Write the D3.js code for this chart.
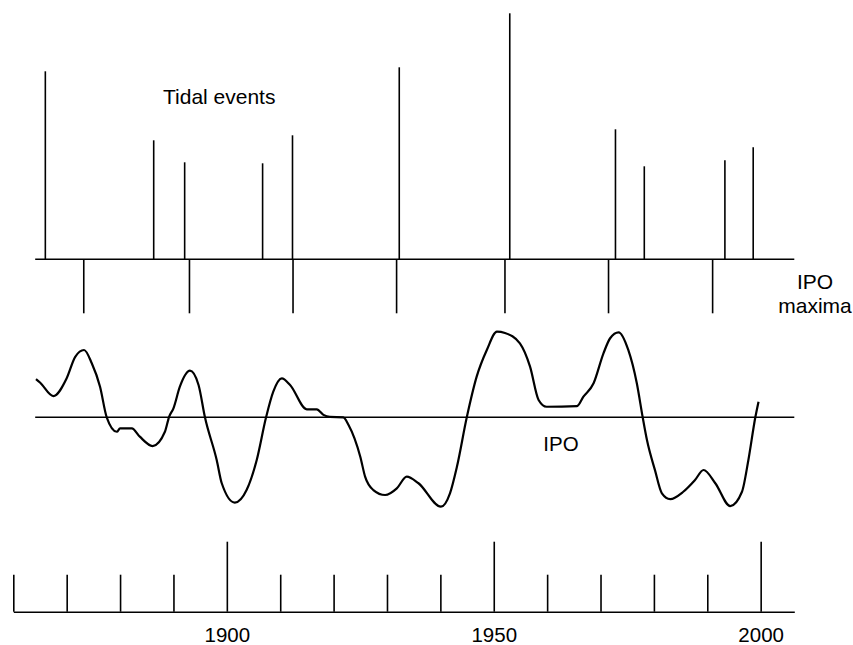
<!DOCTYPE html>
<html>
<head>
<meta charset="utf-8">
<script src="https://cdn.jsdelivr.net/npm/d3@7"></script>
<style>
    body { margin: 0; background: #fff; }
    text { font-family: "Liberation Sans", Arial, sans-serif; fill: #000; }
</style>
</head>
<body>
<div id="chart"></div>
<script>
// tidal events (year, relative height)
const tidalYears = [1866.0, 1886.3, 1892.1, 1906.7, 1912.3, 1932.3, 1953.0, 1972.8, 1978.2, 1993.3, 1998.6]
const tidalHeights = [188, 119, 97, 96, 124, 192, 246, 130, 93, 99, 112]

// IPO maxima years
const ipoMaxYears = [1873.2, 1893.0, 1912.4, 1931.8, 1952.1, 1971.5, 1991.0]

// IPO index
const ipoYears = [1864.25, 1865.0, 1867.5, 1870.0, 1871.6, 1873.25, 1874.7, 1876.25, 1877.5, 1879.4, 1880.0, 1882.2, 1883.7,
    1886.1, 1888.4, 1889.2, 1890.0, 1891.2, 1893.1, 1894.7, 1895.9, 1898.1, 1899.05, 1901.5, 1903.7, 1905.6, 1907.35,
    1908.7, 1910.3, 1911.85, 1914.97, 1916.85, 1918.1, 1919.3, 1921.8, 1922.8, 1925.0, 1925.9, 1927.45, 1929.65,
    1931.84, 1933.7, 1935.9, 1940.1, 1941.8, 1943.1, 1944.95, 1946.8, 1948.7, 1950.6, 1952.1, 1954.9, 1956.8, 1958.4,
    1959.9, 1965.6, 1966.8, 1968.7, 1970.55, 1971.8, 1973.4, 1975.2, 1976.8, 1977.9, 1978.7, 1980.2, 1981.5, 1983.05,
    1985.5, 1987.7, 1989.3, 1991.5, 1994.3, 1996.5, 1997.7, 1999.0, 1999.6]
const ipoValues = [0.225, 0.205, 0.125, 0.23, 0.356, 0.396, 0.318, 0.18, 0.0, -0.085, -0.065, -0.065, -0.114,
    -0.169, -0.085, 0.004, 0.053, 0.18, 0.274, 0.19, 0.0, -0.251, -0.388, -0.502, -0.428, -0.251, 0.0,
    0.151, 0.229, 0.19, 0.047, 0.047, 0.014, 0.002, 0.0, -0.045, -0.232, -0.349, -0.428, -0.457,
    -0.418, -0.349, -0.388, -0.526, -0.447, -0.291, 0.0, 0.239, 0.396, 0.504, 0.496, 0.435, 0.298, 0.102,
    0.062, 0.066, 0.121, 0.2, 0.376, 0.465, 0.5, 0.396, 0.2, 0.0, -0.134, -0.311, -0.447, -0.481,
    -0.438, -0.369, -0.31, -0.388, -0.522, -0.438, -0.251, 0.0, 0.092]

// time axis ticks
const minorTicks = [1860, 1870, 1880, 1890, 1910, 1920, 1930, 1940, 1960, 1970, 1980, 1990]
const majorTicks = [1900, 1950, 2000]

const timeDomain = [1860, 2006.3]
const panelStart = 1864.1

const dimensions = {
    width: 853,
    height: 645,
    axisY: 611.7,
    tidalBase: 259.3,
    ipoZero: 417.3
}

const wrapper = d3.select("#chart")
    .append("svg")
    .attr("width", dimensions.width)
    .attr("height", dimensions.height)

const xScale = d3.scaleLinear()
    .domain(timeDomain)
    .range([13.3, 794.3])

const tidalScale = d3.scaleLinear()
    .domain([0, 246])
    .range([dimensions.tidalBase, 13.3])

const ipoScale = d3.scaleLinear()
    .domain([0, 0.5])
    .range([dimensions.ipoZero, 332.3])

const ink = "#000"
const lw = 1.6

//----------------------tidal events
wrapper.append("line")
    .attr("x1", xScale(panelStart))
    .attr("x2", xScale(timeDomain[1]))
    .attr("y1", dimensions.tidalBase)
    .attr("y2", dimensions.tidalBase)
    .attr("stroke", ink)
    .attr("stroke-width", lw)

wrapper.append("g")
    .selectAll("line")
    .data(tidalYears.map((y, i) => ({ year: y, h: tidalHeights[i] })))
    .join("line")
    .attr("x1", d => xScale(d.year))
    .attr("x2", d => xScale(d.year))
    .attr("y1", tidalScale(0))
    .attr("y2", d => tidalScale(d.h))
    .attr("stroke", ink)
    .attr("stroke-width", lw)

wrapper.append("text")
    .attr("x", 163)
    .attr("y", 104.3)
    .style("font-size", "21px")
    .text("Tidal events")

//----------------------IPO maxima
wrapper.append("g")
    .selectAll("line")
    .data(ipoMaxYears)
    .join("line")
    .attr("x1", d => xScale(d))
    .attr("x2", d => xScale(d))
    .attr("y1", dimensions.tidalBase)
    .attr("y2", dimensions.tidalBase + 54)
    .attr("stroke", ink)
    .attr("stroke-width", lw)

const maxLabel = wrapper.append("text")
    .attr("text-anchor", "middle")
    .style("font-size", "21px")
maxLabel.append("tspan").attr("x", 815).attr("y", 289.3).text("IPO")
maxLabel.append("tspan").attr("x", 815).attr("y", 312.7).text("maxima")

//----------------------IPO curve
wrapper.append("line")
    .attr("x1", xScale(panelStart))
    .attr("x2", xScale(timeDomain[1]))
    .attr("y1", ipoScale(0))
    .attr("y2", ipoScale(0))
    .attr("stroke", ink)
    .attr("stroke-width", lw)

const ipoData = ipoYears.map((y, i) => ({ year: y, value: ipoValues[i] }))

const lineGenerator = d3.line()
    .x(d => xScale(d.year))
    .y(d => ipoScale(d.value))
    .curve(d3.curveMonotoneX)

wrapper.append("path")
    .datum(ipoData)
    .attr("d", lineGenerator)
    .attr("fill", "none")
    .attr("stroke", ink)
    .attr("stroke-width", 2.2)
    .attr("stroke-linejoin", "round")

wrapper.append("text")
    .attr("x", 543.3)
    .attr("y", 451)
    .style("font-size", "20.5px")
    .text("IPO")

//----------------------time axis
const minorAxis = d3.axisBottom(xScale)
    .tickValues(minorTicks)
    .tickSizeInner(-37)
    .tickSizeOuter(0)
    .tickFormat("")

const majorAxis = d3.axisBottom(xScale)
    .tickValues(majorTicks)
    .tickSizeInner(-70)
    .tickSizeOuter(0)
    .tickPadding(15.6)
    .tickFormat(d3.format("d"))

const minorG = wrapper.append("g")
    .attr("transform", `translate(0,${dimensions.axisY})`)
    .call(minorAxis)

const majorG = wrapper.append("g")
    .attr("transform", `translate(0,${dimensions.axisY})`)
    .call(majorAxis)

majorG.select(".domain").remove()

wrapper.selectAll(".domain, .tick line")
    .attr("stroke", ink)
    .attr("stroke-width", lw)

majorG.selectAll(".tick text")
    .attr("font-family", null)
    .attr("font-size", null)
    .style("font-size", "20.5px")
</script>
</body>
</html>
